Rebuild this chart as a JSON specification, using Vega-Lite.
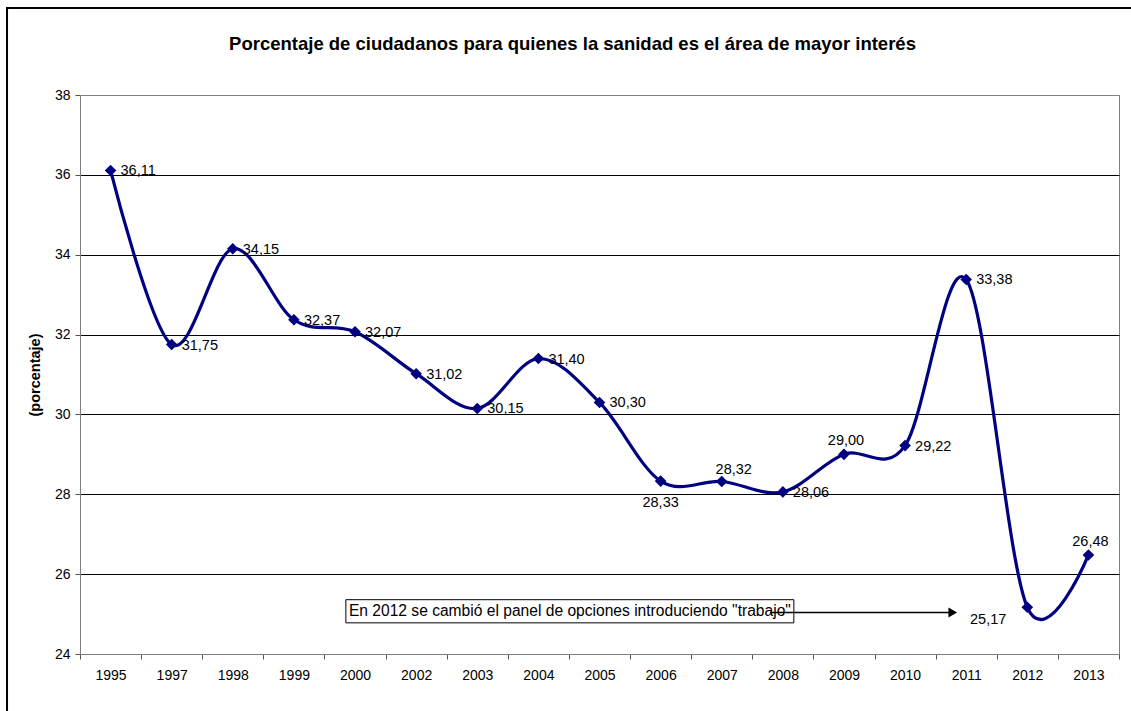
{
  "$schema": "https://vega.github.io/schema/vega-lite/v6.json",
  "width": 1039,
  "height": 559,
  "autosize": "none",
  "padding": {"left": 80, "top": 95, "right": 12, "bottom": 57},
  "background": "white",
  "config": {
    "font": "Liberation Sans",
    "locale": {"number": {"decimal": ",", "thousands": ".", "grouping": [3], "currency": ["", " €"]}},
    "view": {"stroke": "#808080", "strokeWidth": 1}
  },
  "title": {
    "text": "Porcentaje de ciudadanos para quienes la sanidad es el área de mayor interés",
    "font": "Liberation Sans",
    "fontSize": 18.5,
    "fontWeight": "bold",
    "color": "black",
    "anchor": "middle",
    "baseline": "alphabetic",
    "dx": -27,
    "offset": 0,
    "dy": 62
  },
  "layer": [
    {
      "data": {"values": [
        {"year": "1995", "value": 36.11},
        {"year": "1997", "value": 31.75},
        {"year": "1998", "value": 34.15},
        {"year": "1999", "value": 32.37},
        {"year": "2000", "value": 32.07},
        {"year": "2002", "value": 31.02},
        {"year": "2003", "value": 30.15},
        {"year": "2004", "value": 31.40},
        {"year": "2005", "value": 30.30},
        {"year": "2006", "value": 28.33},
        {"year": "2007", "value": 28.32},
        {"year": "2008", "value": 28.06},
        {"year": "2009", "value": 29.00},
        {"year": "2010", "value": 29.22},
        {"year": "2011", "value": 33.38},
        {"year": "2012", "value": 25.17},
        {"year": "2013", "value": 26.48}
      ]},
      "encoding": {
        "x": {
          "field": "year",
          "type": "ordinal",
          "scale": {"type": "band", "paddingInner": 0, "paddingOuter": 0},
          "axis": {
            "title": null,
            "labelAngle": 0,
            "tickBand": "extent",
            "grid": false,
            "domainColor": "#808080",
            "tickColor": "#555555",
            "tickSize": 5,
            "labelPadding": 9,
            "labelFontSize": 14,
            "labelColor": "black",
            "labelFont": "Liberation Sans"
          }
        },
        "y": {
          "field": "value",
          "type": "quantitative",
          "scale": {"domain": [24, 38], "nice": false, "zero": false},
          "axis": {
            "title": "(porcentaje)",
            "titleFontSize": 14.5,
            "titleFontWeight": "bold",
            "titleColor": "black",
            "titlePadding": 12,
            "titleFont": "Liberation Sans",
            "values": [24, 26, 28, 30, 32, 34, 36, 38],
            "grid": true,
            "gridColor": {"condition": {"test": "datum.value == 38 || datum.value == 24", "value": "#808080"}, "value": "black"},
            "gridWidth": 1,
            "domainColor": "#808080",
            "tickColor": "#555555",
            "tickSize": 5,
            "labelPadding": 5,
            "labelFontSize": 14,
            "labelColor": "black",
            "labelFont": "Liberation Sans"
          }
        }
      },
      "layer": [
        {"mark": {"type": "line", "interpolate": "cardinal", "color": "#000080", "strokeWidth": 3.2}},
        {"mark": {"type": "point", "shape": "diamond", "filled": true, "color": "#000080", "size": 135, "opacity": 1}},
        {
          "transform": [{"filter": {"field": "year", "oneOf": ["1995", "1997", "1998", "1999", "2000", "2002", "2003", "2004", "2005", "2008", "2010", "2011"]}}],
          "mark": {"type": "text", "align": "left", "baseline": "middle", "dx": 10, "dy": 1, "fontSize": 14.5, "color": "black"},
          "encoding": {"text": {"field": "value", "type": "quantitative", "format": ".2f"}}
        },
        {
          "transform": [{"filter": {"field": "year", "oneOf": ["2009", "2013"]}}],
          "mark": {"type": "text", "align": "center", "baseline": "middle", "dx": 2, "dy": -13, "fontSize": 14.5, "color": "black"},
          "encoding": {"text": {"field": "value", "type": "quantitative", "format": ".2f"}}
        },
        {
          "transform": [{"filter": {"field": "year", "equal": "2007"}}],
          "mark": {"type": "text", "align": "center", "baseline": "middle", "dx": 12, "dy": -12, "fontSize": 14.5, "color": "black"},
          "encoding": {"text": {"field": "value", "type": "quantitative", "format": ".2f"}}
        },
        {
          "transform": [{"filter": {"field": "year", "equal": "2006"}}],
          "mark": {"type": "text", "align": "center", "baseline": "middle", "dy": 22, "fontSize": 14.5, "color": "black"},
          "encoding": {"text": {"field": "value", "type": "quantitative", "format": ".2f"}}
        },
        {
          "transform": [{"filter": {"field": "year", "equal": "2012"}}],
          "mark": {"type": "text", "align": "right", "baseline": "middle", "dx": -21, "dy": 13, "fontSize": 14.5, "color": "black"},
          "encoding": {"text": {"field": "value", "type": "quantitative", "format": ".2f"}}
        }
      ]
    },
    {
      "data": {"values": [{}]},
      "layer": [
        {
          "mark": {"type": "rect", "filled": false, "stroke": "black", "strokeWidth": 2, "clip": false},
          "encoding": {
            "x": {"datum": -1.194, "type": "quantitative", "scale": {"domain": [0, 17], "nice": false, "zero": false}, "axis": null},
            "x2": {"datum": 18.5},
            "y": {"datum": 40.18, "type": "quantitative", "scale": {"domain": [24, 38], "nice": false, "zero": false}},
            "y2": {"datum": 20}
          }
        },
        {
          "mark": {"type": "rect", "fill": "white", "stroke": "black", "strokeWidth": 1},
          "encoding": {
            "x": {"datum": 4.35, "type": "quantitative", "scale": {"domain": [0, 17], "nice": false, "zero": false}, "axis": null},
            "x2": {"datum": 11.68},
            "y": {"datum": 25.36, "type": "quantitative", "scale": {"domain": [24, 38], "nice": false, "zero": false}},
            "y2": {"datum": 24.78}
          }
        },
        {
          "mark": {"type": "text", "align": "left", "baseline": "middle", "fontSize": 15.6, "color": "black", "text": "En 2012 se cambió el panel de opciones introduciendo \"trabajo\""},
          "encoding": {
            "x": {"datum": 4.40, "type": "quantitative", "scale": {"domain": [0, 17], "nice": false, "zero": false}, "axis": null},
            "y": {"datum": 25.07, "type": "quantitative", "scale": {"domain": [24, 38], "nice": false, "zero": false}}
          }
        },
        {
          "mark": {"type": "rule", "color": "black", "strokeWidth": 1.5},
          "encoding": {
            "x": {"datum": 11.29, "type": "quantitative", "scale": {"domain": [0, 17], "nice": false, "zero": false}, "axis": null},
            "x2": {"datum": 14.25},
            "y": {"datum": 25.04, "type": "quantitative", "scale": {"domain": [24, 38], "nice": false, "zero": false}}
          }
        },
        {
          "mark": {"type": "point", "shape": "triangle-right", "filled": true, "color": "black", "size": 100, "opacity": 1},
          "encoding": {
            "x": {"datum": 14.28, "type": "quantitative", "scale": {"domain": [0, 17], "nice": false, "zero": false}, "axis": null},
            "y": {"datum": 25.04, "type": "quantitative", "scale": {"domain": [24, 38], "nice": false, "zero": false}}
          }
        }
      ]
    }
  ],
  "resolve": {"scale": {"x": "independent"}, "axis": {"x": "independent"}}
}
